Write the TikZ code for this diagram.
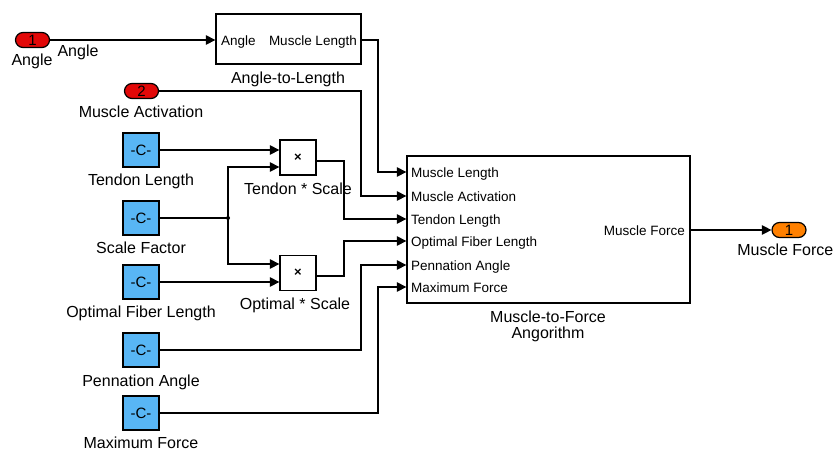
\documentclass[tikz,border=0pt]{standalone}
\usepackage{fontspec}
\setmainfont{Liberation Sans}
\usetikzlibrary{arrows.meta}
\definecolor{ired}{RGB}{226,8,8}
\definecolor{oorange}{RGB}{255,128,0}
\definecolor{cblue}{RGB}{88,182,245}
\begin{document}
\begin{tikzpicture}[x=1pt,y=-1pt,
 wire/.style={line width=1.2pt},
 arr/.style={wire,-{Triangle[length=9.5pt,width=9.5pt]}},
 blk/.style={draw,line width=1.3pt,fill=white,inner sep=0pt},
 cst/.style={draw,line width=1.3pt,fill=cblue,minimum width=36pt,minimum height=34pt,inner sep=0pt,font=\fontsize{15}{17}\selectfont},
 prod/.style={draw,line width=1.3pt,fill=white,minimum width=36pt,minimum height=35pt,inner sep=0pt,font=\bfseries\fontsize{13}{15}\selectfont},
 port/.style={draw,line width=1.2pt,rounded corners=7.5pt,minimum width=34pt,minimum height=15pt,inner sep=0pt,font=\fontsize{15}{15}\selectfont},
 lbl/.style={anchor=base,inner sep=0pt,font=\fontsize{16}{18}\selectfont},
 plbl/.style={inner sep=0pt,font=\fontsize{13.5}{16}\selectfont},
]
\useasboundingbox (0,0) rectangle (834,450);

% ports
\node[port,fill=ired] (in1) at (32.5,40) {1};
\node[port,fill=ired] (in2) at (141.5,91) {2};
\node[port,fill=oorange] (out1) at (789,230) {1};
\node[lbl] (in1l) at (32,65) {Angle};
\node[lbl] (in1w) at (78,56) {Angle};
\node[lbl] (in2l) at (141,117) {Muscle Activation};
\node[lbl,anchor=base east] (out1l) at (833.5,255) {Muscle Force};

% Angle-to-Length
\node[blk,minimum width=145pt,minimum height=50pt] (a2l) at (288.5,39) {};
\node[plbl,anchor=base west] (a2lin) at (221,45) {Angle};
\node[plbl,anchor=base east] (a2lout) at (357,45) {Muscle Length};
\node[lbl] (a2ll) at (288,83) {Angle-to-Length};

% main block
\node[blk,minimum width=283pt,minimum height=147pt] (main) at (548.5,229.5) {};
\node[plbl,anchor=base west] (ml1) at (411,177) {Muscle Length};
\node[plbl,anchor=base west] (ml2) at (411,201) {Muscle Activation};
\node[plbl,anchor=base west] (ml3) at (411,224) {Tendon Length};
\node[plbl,anchor=base west] (ml4) at (411,246) {Optimal Fiber Length};
\node[plbl,anchor=base west] (ml5) at (411,270) {Pennation Angle};
\node[plbl,anchor=base west] (ml6) at (411,292) {Maximum Force};
\node[plbl,anchor=base east] (mlo) at (685,235) {Muscle Force};
\node[lbl] (mainl1) at (548,322) {Muscle-to-Force};
\node[lbl] (mainl2) at (548,338) {Angorithm};

% constants
\node[cst] (c1) at (141,150) {-C-};
\node[cst] (c2) at (141,218) {-C-};
\node[cst] (c3) at (141,282) {-C-};
\node[cst] (c4) at (141,350) {-C-};
\node[cst] (c5) at (141,413) {-C-};
\node[lbl] (c1l) at (141,185) {Tendon Length};
\node[lbl] (c2l) at (141,253) {Scale Factor};
\node[lbl] (c3l) at (141,317) {Optimal Fiber Length};
\node[lbl] (c4l) at (141,386) {Pennation Angle};
\node[lbl] (c5l) at (141,448) {Maximum Force};

% products
\node[prod] (p1) at (298,157.5) {×};
\node[prod] (p2) at (298,273) {×};
\node[lbl] (p1l) at (298,194) {Tendon * Scale};
\node[lbl] (p2l) at (295,309) {Optimal * Scale};

% port coordinates
\coordinate (m1) at (main.west |- 0,172);
\coordinate (m2) at (main.west |- 0,196);
\coordinate (m3) at (main.west |- 0,219);
\coordinate (m4) at (main.west |- 0,241);
\coordinate (m5) at (main.west |- 0,265);
\coordinate (m6) at (main.west |- 0,287);
\coordinate (j) at (228,218);

% wires
\draw[arr] (in1.east) -- (a2l.west |- in1);
\draw[arr] (a2l.east |- in1) -- (378,40) -- (378,172) -- (m1);
\draw[arr] (in2.east) -- (361,91) -- (361,196) -- (m2);
\draw[arr] (c1.east) -- (p1.west |- c1);
\draw[wire] (c2.east) -- (j);
\draw[arr] (j) -- (228,167) -- (p1.west |- 0,167);
\draw[arr] (j) -- (228,264) -- (p2.west |- 0,264);
\fill (j) circle (2pt);
\draw[arr] (c3.east) -- (p2.west |- c3);
\draw[arr] (p1.east |- 0,161) -- (344,161) -- (344,219) -- (m3);
\draw[arr] (p2.east |- 0,276) -- (344,276) -- (344,241) -- (m4);
\draw[arr] (c4.east) -- (361,350) -- (361,265) -- (m5);
\draw[arr] (c5.east) -- (378,413) -- (378,287) -- (m6);
\draw[arr] (main.east |- out1) -- (out1.west);
\end{tikzpicture}
\end{document}
